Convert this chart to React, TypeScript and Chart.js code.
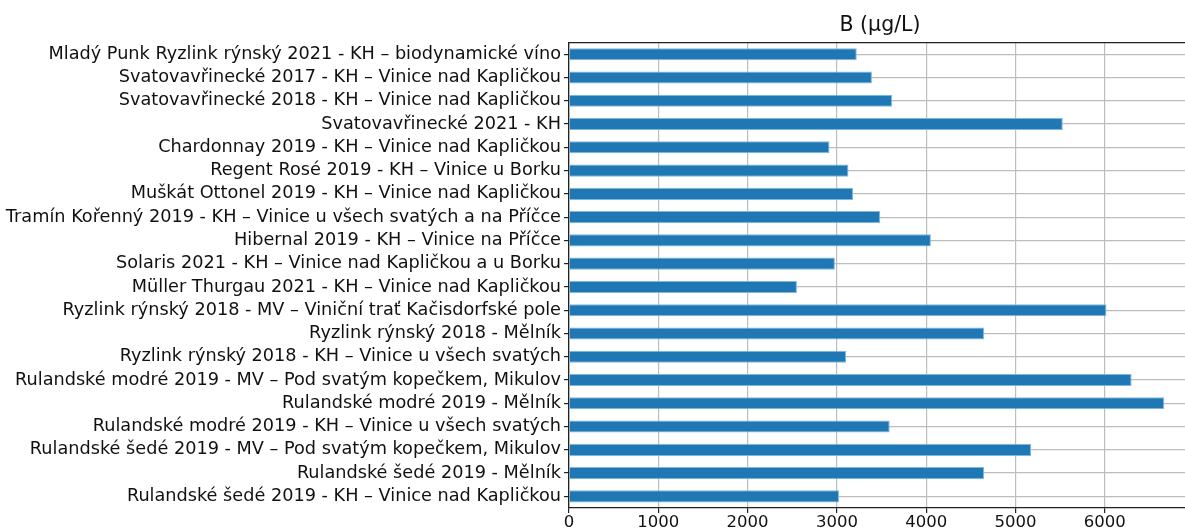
import React, { useEffect, useRef } from "react";
import { Chart, registerables } from "chart.js";

Chart.register(...registerables);

const categories: string[] = [
  "Mladý Punk Ryzlink rýnský 2021 - KH – biodynamické víno",
  "Svatovavřinecké 2017 - KH – Vinice nad Kapličkou",
  "Svatovavřinecké 2018 - KH – Vinice nad Kapličkou",
  "Svatovavřinecké 2021 - KH",
  "Chardonnay 2019 - KH – Vinice nad Kapličkou",
  "Regent Rosé 2019 - KH – Vinice u Borku",
  "Muškát Ottonel 2019 - KH – Vinice nad Kapličkou",
  "Tramín Kořenný 2019 - KH – Vinice u všech svatých a na Příčce",
  "Hibernal 2019 - KH – Vinice na Příčce",
  "Solaris 2021 - KH – Vinice nad Kapličkou a u Borku",
  "Müller Thurgau 2021 - KH – Vinice nad Kapličkou",
  "Ryzlink rýnský 2018 - MV – Viniční trať Kačisdorfské pole",
  "Ryzlink rýnský 2018 - Mělník",
  "Ryzlink rýnský 2018 - KH – Vinice u všech svatých",
  "Rulandské modré 2019 - MV – Pod svatým kopečkem, Mikulov",
  "Rulandské modré 2019 - Mělník",
  "Rulandské modré 2019 - KH – Vinice u všech svatých",
  "Rulandské šedé 2019 - MV – Pod svatým kopečkem, Mikulov",
  "Rulandské šedé 2019 - Mělník",
  "Rulandské šedé 2019 - KH – Vinice nad Kapličkou",
];

const boronValues: number[] = [
  3222, 3392, 3618, 5529, 2917, 3129, 3180, 3485, 4052, 2977,
  2552, 6018, 4648, 3102, 6300, 6665, 3591, 5174, 4648, 3023,
];

const xTickValues: number[] = [0, 1000, 2000, 3000, 4000, 5000, 6000];

const titleText = "B (µg/L)";
const xMin = 0;
const xMax = 6965;

const FONT = "'DejaVu Sans', sans-serif";

const topSpine = {
  id: "topSpine",
  afterDraw(chart: any) {
    const { ctx, chartArea } = chart;
    ctx.save();
    ctx.strokeStyle = "#222";
    ctx.lineWidth = 1.3;
    ctx.beginPath();
    ctx.moveTo(chartArea.left, chartArea.top);
    ctx.lineTo(chartArea.right, chartArea.top);
    ctx.stroke();
    ctx.restore();
  },
};

export default function App() {
  const ref = useRef<HTMLCanvasElement | null>(null);

  useEffect(() => {
    if (!ref.current) return;
    const chart = new Chart(ref.current, {
      type: "bar",
      data: {
        labels: categories,
        datasets: [
          {
            data: boronValues,
            backgroundColor: "#1f77b4",
            borderColor: "#7db8e0",
            borderWidth: 1,
            barPercentage: 0.52,
            categoryPercentage: 1,
          },
        ],
      },
      options: {
        indexAxis: "y",
        responsive: false,
        maintainAspectRatio: false,
        animation: false,
        layout: { padding: 0 },
        plugins: {
          legend: { display: false },
          tooltip: { enabled: false },
          title: {
            display: true,
            text: titleText,
            fullSize: false,
            color: "#111",
            font: { family: FONT, size: 20.5, weight: "normal" },
            padding: { top: 13, bottom: 5 },
          },
        },
        scales: {
          x: {
            type: "linear",
            position: "bottom",
            min: xMin,
            max: xMax,
            z: 1,
            grid: {
              color: "#bdbdbd",
              lineWidth: 1.2,
              drawTicks: true,
              tickLength: 5,
              tickColor: "#222",
            },
            border: { color: "#222", width: 1.3 },
            afterBuildTicks: (s: any) => {
              s.ticks = xTickValues.map((v) => ({ value: v }));
            },
            ticks: {
              color: "#111",
              font: { family: FONT, size: 16.5 },
              padding: 0,
              maxRotation: 0,
              autoSkip: false,
              callback: (v: any) => String(v),
            },
            afterFit: (s: any) => {
              s.height = 24;
            },
          },
          y: {
            type: "category",
            z: 1,
            offset: true,
            grid: {
              offset: false,
              color: "#bdbdbd",
              lineWidth: 1.2,
              drawTicks: true,
              tickLength: 5,
              tickColor: "#222",
            },
            border: { color: "#222", width: 1.3 },
            ticks: {
              autoSkip: false,
              color: "#111",
              font: { family: FONT, size: 17.7 },
              padding: 3,
            },
            afterFit: (s: any) => {
              s.width = 569;
            },
          },
        },
      },
      plugins: [topSpine],
    } as any);
    return () => chart.destroy();
  }, []);

  return (
    <div
      style={{
        position: "fixed",
        left: 0,
        top: 0,
        width: 1185,
        height: 532,
        overflow: "hidden",
        background: "#fff",
      }}
    >
      <canvas ref={ref} width={1191} height={532} style={{ width: 1191, height: 532 }} />
    </div>
  );
}
